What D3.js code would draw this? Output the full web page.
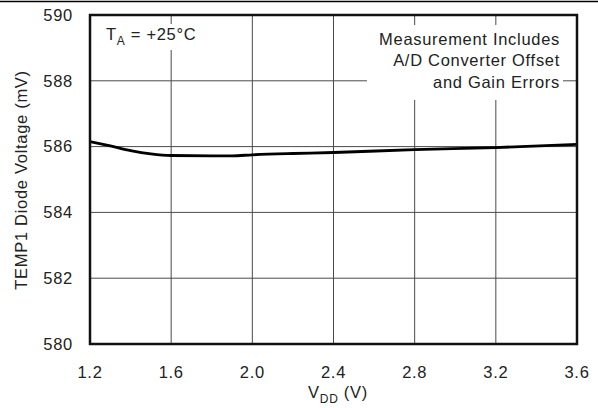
<!DOCTYPE html>
<html><head><meta charset="utf-8">
<script src="https://cdn.jsdelivr.net/npm/d3@7"></script>
<style>body{margin:0;background:#fff}svg{display:block;font-family:"Liberation Sans",Arial,sans-serif}</style>
</head><body><svg id="c" width="598" height="408"></svg>
<script>
const vdd = [1.2,1.3,1.4,1.5,1.6,1.8,1.9,2.0,2.2,2.4,2.8,3.2,3.6];
const voltage = [586.15,586.02,585.88,585.78,585.73,585.72,585.72,585.75,585.79,585.82,585.91,585.97,586.07];
const xTicks = [1.2,1.6,2.0,2.4,2.8,3.2,3.6];
const yTicks = [580,582,584,586,588,590];
const noteLines = ["Measurement Includes","A/D Converter Offset","and Gain Errors"];

const svg = d3.select("#c");
const L=90,R=577,T=15,B=344;
const x = d3.scaleLinear().domain([1.2,3.6]).range([L,R]);
const y = d3.scaleLinear().domain([580,590]).range([B,T]);
const FS=16.5, LS=0.7;

svg.append("line").attr("x1",0).attr("x2",598).attr("y1",1.5).attr("y2",1.5).attr("stroke","#000").attr("stroke-width",1.5);

const g = svg.append("g");
g.selectAll(".vg").data(xTicks.slice(1,-1)).join("line")
 .attr("x1",d=>x(d)).attr("x2",d=>x(d)).attr("y1",T).attr("y2",B).attr("stroke","#4a4a4a").attr("stroke-width",1);
g.selectAll(".hg").data(yTicks.slice(1,-1)).join("line")
 .attr("x1",L).attr("x2",R).attr("y1",d=>y(d)).attr("y2",d=>y(d)).attr("stroke","#4a4a4a").attr("stroke-width",1);

svg.append("rect").attr("x",367).attr("y",25).attr("width",196).attr("height",75).attr("fill","#fff");
svg.append("rect").attr("x",102).attr("y",24).attr("width",100).attr("height",26).attr("fill","#fff");

svg.append("path").datum(vdd.map((v,i)=>[v,voltage[i]]))
 .attr("d",d3.line().x(d=>x(d[0])).y(d=>y(d[1])).curve(d3.curveMonotoneX))
 .attr("fill","none").attr("stroke","#000").attr("stroke-width",2.8);

svg.append("rect").attr("x",L).attr("y",T).attr("width",R-L).attr("height",B-T)
 .attr("fill","none").attr("stroke","#111").attr("stroke-width",2.5);

svg.selectAll(".yt").data(yTicks).join("text").attr("x",73).attr("y",d=>y(d)).attr("dy","0.35em")
 .attr("text-anchor","end").attr("font-size",FS).attr("letter-spacing",LS).attr("fill","#222").text(d=>d);
svg.selectAll(".xt").data(xTicks).join("text").attr("x",d=>x(d)).attr("y",372).attr("dy","0.35em")
 .attr("text-anchor","middle").attr("font-size",FS).attr("letter-spacing",LS).attr("fill","#222").text(d=>d.toFixed(1));

const ta = svg.append("text").attr("x",106).attr("y",39.5).attr("font-size",FS).attr("letter-spacing",LS).attr("fill","#222");
ta.append("tspan").text("T");
ta.append("tspan").attr("font-size",12).attr("dy",5).text("A");
ta.append("tspan").attr("dy",-5).text(" = +25°C");

svg.selectAll(".note").data(noteLines).join("text").attr("x",560).attr("y",(d,i)=>44.5+i*21.5)
 .attr("text-anchor","end").attr("font-size",FS).attr("letter-spacing",LS).attr("fill","#222").text(d=>d);

svg.append("text").attr("transform","translate(21,180) rotate(-90)").attr("text-anchor","middle").attr("dy","0.35em")
 .attr("font-size",FS).attr("letter-spacing",LS).attr("fill","#222").text("TEMP1 Diode Voltage (mV)");

const xl = svg.append("text").attr("x",338).attr("y",398).attr("text-anchor","middle").attr("font-size",FS).attr("letter-spacing",LS).attr("fill","#222");
xl.append("tspan").text("V");
xl.append("tspan").attr("font-size",12).attr("dy",5).text("DD");
xl.append("tspan").attr("dy",-5).text(" (V)");
</script></body></html>
